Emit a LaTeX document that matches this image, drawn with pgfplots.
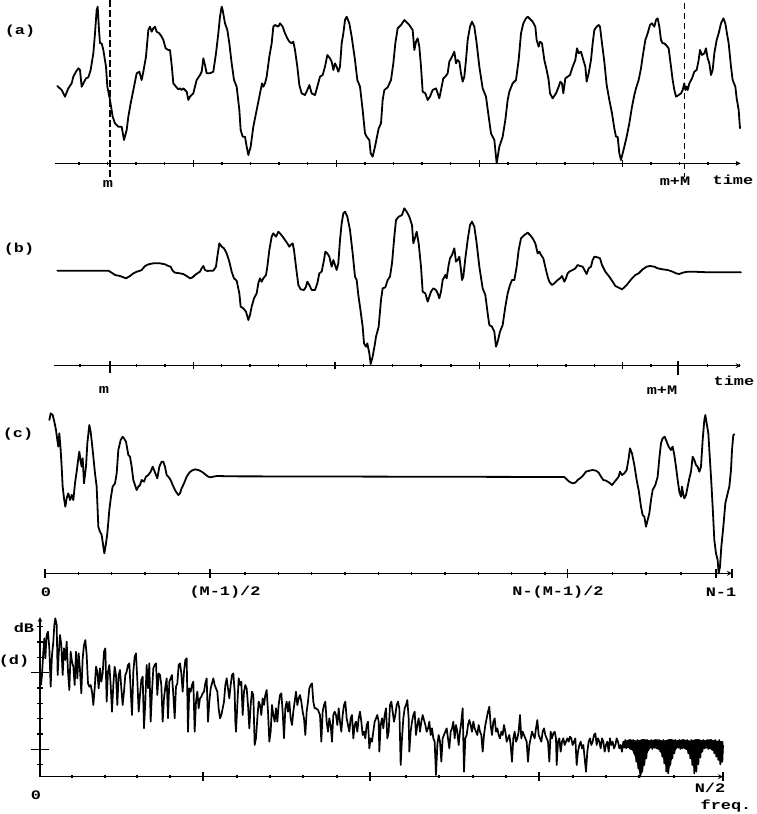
\documentclass[border=0pt]{standalone}
\usepackage{pgfplots}
\pgfplotsset{compat=1.18}
\usepackage{fontspec}
\newfontfamily\lab[FakeStretch=1.3]{Liberation Mono}
\tikzset{lbl/.style={font=\lab\bfseries\fontsize{13}{15}\selectfont, inner sep=0pt}}
\pgfplotsset{
  panel/.style={
    x=0.333333pt, y=0.333333pt,
    anchor=south west,
    enlargelimits=false,
    clip=false,
    axis line style={-, line width=1.2pt},
    xticklabel=\empty,
    yticklabel=\empty,
    tick align=outside,
    major tick length=7pt,
    minor tick length=2.5pt,
    tick style={black, line width=1.2pt},
  },
  xonly/.style={axis x line=bottom, axis y line=none, ytick=\empty},
  wave/.style={black, line width=1.8pt, line join=round, line cap=round, mark=none},
}
\begin{document}
\begin{tikzpicture}
\path[use as bounding box] (0pt,0pt) rectangle (756pt,-814pt);
% ---------------- (a)
\begin{axis}[panel, xonly, at={(55pt,-163.333pt)}, xmin=165, xmax=2222, ymin=-490, ymax=0,
  xtick={580,1009,1438,1867},
  minor xtick={237,323,408,494,666,752,837,923,1095,1181,1266,1352,1524,1610,1695,1781,1953,2039,2124,2210}]
\addplot[wave] coordinates {
(172,-258) (185,-270) (195,-290) (205,-265) (215,-250) (220,-230) (228,-215) (235,-205) (240,-210) (245,-260) (250,-250) (258,-235) (265,-232) (272,-210) (280,-160) (285,-100) (290,-30) (293,-20) (297,-90) (300,-130) (305,-130) (310,-150) (318,-200) (322,-260) (330,-300) (338,-350) (345,-370) (355,-380) (365,-380) (372,-420) (380,-390) (385,-350) (392,-310) (400,-270) (405,-245) (410,-220) (418,-215) (425,-240) (430,-215) (438,-170) (445,-90) (450,-80) (455,-95) (460,-85) (465,-80) (470,-95) (478,-100) (485,-110) (490,-120) (497,-145) (505,-150) (510,-150) (515,-195) (520,-250) (528,-260) (535,-268) (540,-265) (545,-270) (550,-265) (560,-275) (565,-300) (570,-290) (580,-280) (590,-240) (600,-225) (605,-215) (610,-175) (615,-195) (620,-220) (630,-220) (640,-215) (648,-160) (655,-100) (660,-50) (665,-20) (668,-30) (675,-70) (682,-90) (688,-130) (695,-190) (702,-240) (710,-260) (718,-330) (722,-390) (728,-410) (735,-410) (740,-440) (745,-465) (752,-440) (760,-380) (770,-330) (780,-280) (786,-250) (790,-260) (795,-250) (800,-230) (808,-170) (815,-130) (820,-80) (825,-75) (835,-80) (840,-70) (848,-80) (855,-100) (862,-115) (868,-125) (875,-130) (880,-125) (885,-150) (892,-200) (898,-255) (905,-280) (915,-285) (922,-270) (928,-255) (935,-280) (945,-285) (952,-260) (960,-230) (968,-225) (975,-200) (982,-165) (990,-175) (995,-185) (1000,-210) (1005,-190) (1010,-200) (1015,-215) (1020,-200) (1025,-130) (1030,-100) (1035,-60) (1040,-50) (1048,-70) (1055,-110) (1065,-180) (1072,-240) (1080,-260) (1088,-330) (1095,-400) (1100,-410) (1108,-420) (1112,-460) (1118,-470) (1125,-440)
(1136,-385) (1143,-370) (1148,-300) (1153,-270) (1163,-262) (1173,-240) (1180,-190) (1186,-130) (1193,-85) (1203,-75) (1213,-60) (1218,-65) (1228,-75) (1238,-90) (1243,-150) (1248,-125) (1253,-115) (1258,-140) (1263,-200) (1268,-275) (1276,-280) (1283,-300) (1290,-290) (1298,-270) (1308,-265) (1313,-280) (1318,-295) (1323,-270) (1330,-235) (1336,-230) (1343,-220) (1348,-185) (1356,-170) (1363,-155) (1368,-190) (1373,-180) (1378,-185) (1383,-220) (1388,-245) (1393,-230) (1398,-180) (1403,-120) (1410,-80) (1416,-65) (1423,-80) (1430,-130) (1438,-200) (1448,-265) (1458,-290) (1466,-350) (1473,-400) (1483,-420) (1490,-490) (1498,-440) (1508,-410) (1516,-360) (1523,-300) (1528,-275) (1538,-250) (1548,-240) (1556,-180) (1563,-100) (1570,-70) (1578,-55) (1583,-50) (1588,-55) (1593,-60) (1598,-65) (1606,-80) (1610,-120) (1616,-140) (1620,-125) (1626,-130) (1633,-180) (1640,-210) (1646,-240) (1650,-280) (1658,-295) (1668,-280) (1676,-260) (1681,-245) (1686,-250) (1690,-280) (1696,-235) (1703,-230) (1710,-225) (1718,-200) (1726,-180) (1731,-145) (1736,-160) (1743,-155) (1750,-180) (1756,-200) (1760,-245) (1766,-220) (1773,-180) (1778,-130) (1783,-90) (1790,-80) (1796,-75) (1800,-80) (1806,-130) (1813,-185) (1820,-255) (1828,-300) (1836,-340) (1843,-385) (1848,-410) (1853,-410) (1858,-460) (1863,-480) (1868,-460) (1873,-440) (1880,-410) (1888,-370) (1896,-320) (1903,-285) (1908,-265) (1916,-240) (1923,-205) (1928,-170) (1936,-120) (1943,-100) (1950,-75) (1956,-70) (1963,-80) (1968,-60) (1973,-55) (1978,-80) (1983,-120) (1988,-130) (1993,-130) (1998,-135) (2006,-145) (2013,-200) (2018,-240) (2023,-270) (2028,-290) (2036,-285) (2043,-280) (2048,-270) (2053,-250) (2056,-270) (2060,-260) (2063,-270) (2068,-250) (2076,-235) (2083,-215) (2090,-210) (2096,-180) (2100,-150) (2106,-165) (2113,-160) (2118,-145) (2123,-175) (2128,-190) (2133,-225) (2138,-210) (2143,-160) (2150,-120) (2156,-100) (2163,-70) (2170,-55) (2176,-70) (2180,-95) (2186,-130) (2193,-200) (2198,-240) (2206,-260) (2210,-295) (2216,-330) (2220,-385)
};
\addplot[black, line width=2.4pt, dash pattern=on 7pt off 3pt] coordinates {(330,0) (330,-530)};
\addplot[black, line width=1.4pt, dash pattern=on 6pt off 4pt] coordinates {(2053,-10) (2053,-530)};
\node[lbl] at (axis cs:60,-93) {(a)};
\node[lbl] at (axis cs:324,-552) {m};
\node[lbl] at (axis cs:2025,-543) {m+M};
\node[lbl] at (axis cs:2199,-540) {time};
\end{axis}
% ---------------- (b)
\begin{axis}[panel, xonly, at={(54pt,-365.667pt)}, xmin=162, xmax=2222, ymin=-497, ymax=0,
  xtick={580,1005,1438,1868},
  minor xtick={240,410,495,665,750,835,920,1090,1178,1263,1353,1528,1613,1698,1783,1953,2123,2218}]
\addplot[wave] coordinates {
(172,-212) (325,-212) (335,-218) (345,-225) (360,-228) (378,-235) (390,-228) (400,-220) (410,-215) (418,-213) (425,-210) (435,-198) (445,-193) (460,-190) (480,-190) (495,-193) (505,-198) (512,-200) (518,-212) (525,-218) (540,-220) (550,-222) (560,-228) (570,-235) (578,-232) (585,-225) (595,-218) (600,-215) (605,-205) (610,-198) (615,-210) (622,-213) (630,-212) (640,-212) (648,-200) (652,-170) (658,-130) (665,-140) (672,-145) (680,-160) (688,-185) (695,-215) (702,-235) (710,-242) (718,-280) (722,-320) (730,-325) (738,-335) (745,-360) (750,-345) (755,-320) (762,-295) (770,-280) (775,-250) (780,-235) (785,-245) (790,-235) (798,-225) (802,-200) (808,-150) (815,-110) (820,-100) (828,-110) (835,-95) (840,-100) (848,-110) (855,-120) (862,-130) (868,-140) (872,-135) (878,-130) (882,-150) (888,-200) (895,-255) (902,-268) (912,-270) (918,-260) (922,-245) (928,-255) (935,-270) (945,-270) (952,-250) (958,-220) (965,-215) (972,-180) (976,-155) (982,-160) (988,-170) (995,-200) (1000,-180) (1005,-195) (1010,-210) (1015,-190) (1020,-120) (1025,-70) (1030,-40) (1035,-35) (1042,-50) (1050,-90) (1058,-160) (1065,-230) (1070,-240) (1075,-285) (1080,-320) (1088,-380) (1092,-430) (1098,-440) (1102,-430) (1108,-460) (1112,-492) (1118,-470) (1125,-430)
(1128,-410) (1136,-380) (1143,-300) (1148,-265) (1156,-262) (1163,-240) (1170,-230) (1176,-190) (1183,-110) (1188,-60) (1196,-50) (1206,-45) (1213,-25) (1220,-35) (1228,-50) (1236,-75) (1240,-130) (1246,-110) (1250,-95) (1256,-130) (1263,-200) (1268,-275) (1276,-280) (1283,-305) (1288,-290) (1293,-275) (1300,-265) (1308,-270) (1313,-280) (1318,-295) (1323,-275) (1328,-240) (1336,-225) (1340,-235) (1346,-195) (1350,-175) (1356,-165) (1363,-145) (1368,-185) (1373,-180) (1378,-170) (1383,-210) (1386,-240) (1390,-230) (1396,-175) (1403,-120) (1410,-75) (1416,-65) (1423,-80) (1430,-130) (1438,-200) (1448,-265) (1456,-285) (1463,-340) (1468,-375) (1476,-380) (1483,-395) (1488,-440) (1493,-425) (1500,-395) (1508,-375) (1516,-320) (1523,-280) (1530,-255) (1536,-240) (1543,-240) (1550,-200) (1556,-150) (1563,-115) (1573,-105) (1583,-98) (1590,-105) (1598,-115) (1606,-130) (1613,-160) (1618,-155) (1623,-165) (1630,-175) (1638,-210) (1643,-230) (1648,-245) (1656,-255) (1663,-250) (1673,-240) (1680,-235) (1686,-228) (1693,-245) (1698,-235) (1703,-220) (1708,-215) (1718,-210) (1726,-205) (1733,-195) (1740,-198) (1748,-200) (1756,-215) (1760,-222) (1766,-205) (1773,-200) (1778,-180) (1783,-170) (1793,-172) (1800,-175) (1806,-195) (1816,-215) (1828,-230) (1838,-245) (1846,-258) (1856,-263) (1866,-268) (1873,-262) (1880,-255) (1888,-245) (1896,-235) (1906,-225) (1916,-220) (1928,-208) (1940,-200) (1950,-198) (1963,-200) (1973,-205) (1988,-208) (2003,-210) (2018,-215) (2028,-220) (2038,-222) (2048,-218) (2063,-215) (2078,-215) (2128,-217) (2223,-217)
};
\addplot[black, line width=2.2pt] coordinates {(330,-483) (330,-520)};
\addplot[black, line width=2.2pt] coordinates {(2033,-483) (2033,-525)};
\node[lbl] at (axis cs:57,-147) {(b)};
\node[lbl] at (axis cs:312,-570) {m};
\node[lbl] at (axis cs:1986,-570) {m+M};
\node[lbl] at (axis cs:2202,-543) {time};
\end{axis}
% ---------------- (c)
\begin{axis}[panel, xonly, at={(45pt,-573.333pt)}, xmin=135, xmax=2196, ymin=-520, ymax=0,
  major tick length=9pt,
  xtick={135,630,1703,2148,2196},
  minor xtick={235,335,435,535,735,835,935,1035,1135,1235,1335,1435,1535,1635,1838,1938,2043}]
\addplot[wave] coordinates {
(148,-60) (152,-40) (158,-45) (163,-65) (168,-90) (172,-120) (175,-140) (178,-100) (182,-150) (185,-200) (188,-260) (192,-295) (196,-320) (200,-295) (205,-280) (210,-300) (215,-285) (220,-300) (225,-250) (230,-215) (235,-175) (238,-155) (242,-185) (245,-200) (248,-175) (252,-250) (258,-200) (262,-130) (268,-75) (272,-95) (278,-150) (285,-220) (290,-260) (295,-380) (300,-395) (305,-405) (310,-440) (313,-460) (318,-430) (322,-400) (328,-330) (333,-290) (338,-260) (345,-250) (350,-220) (355,-150) (362,-120) (368,-110) (372,-115) (378,-125) (385,-165) (390,-170) (395,-200) (400,-240) (405,-255) (410,-270) (415,-260) (420,-255) (425,-240) (432,-245) (438,-230) (445,-225) (452,-215) (458,-200) (462,-210) (468,-225) (472,-235) (478,-200) (485,-185) (490,-185) (495,-200) (500,-225) (505,-230) (512,-240) (518,-255) (525,-270) (530,-278) (535,-285) (540,-280) (545,-265) (552,-250) (560,-230) (568,-218) (575,-212) (585,-208) (595,-210) (605,-215) (612,-220) (618,-225) (625,-230) (632,-232) (640,-230) (650,-228) (700,-229) (1200,-230) (1693,-231)
(1700,-238) (1708,-245) (1718,-250) (1726,-248) (1733,-240) (1740,-235) (1748,-228) (1758,-215) (1768,-212) (1778,-210) (1788,-212) (1796,-218) (1803,-230) (1810,-240) (1818,-242) (1828,-248) (1836,-255) (1840,-250) (1848,-240) (1856,-230) (1860,-215) (1866,-225) (1873,-220) (1880,-210) (1886,-175) (1890,-145) (1896,-160) (1903,-195) (1910,-240) (1916,-270) (1923,-320) (1928,-345) (1933,-350) (1938,-380) (1943,-360) (1948,-340) (1953,-300) (1958,-270) (1966,-255) (1973,-230) (1978,-175) (1983,-130) (1988,-115) (1994,-110) (2000,-125) (2006,-140) (2013,-150) (2018,-140) (2023,-165) (2028,-200) (2033,-240) (2038,-275) (2043,-290) (2046,-260) (2050,-285) (2053,-295) (2058,-285) (2063,-260) (2068,-235) (2073,-215) (2078,-170) (2083,-180) (2088,-195) (2093,-200) (2098,-215) (2103,-200) (2108,-120) (2113,-60) (2116,-45) (2120,-70) (2125,-100) (2128,-150) (2133,-230) (2138,-320) (2143,-420) (2148,-460) (2153,-480) (2156,-520) (2160,-500) (2164,-440) (2170,-380) (2176,-310) (2183,-280) (2188,-260) (2193,-210) (2196,-150) (2200,-105) (2203,-103)
};
\node[lbl] at (axis cs:54,-102) {(c)};
\node[lbl] at (axis cs:138,-576) {0};
\node[lbl] at (axis cs:675,-576) {(M-1)/2};
\node[lbl] at (axis cs:1674,-576) {N-(M-1)/2};
\node[lbl] at (axis cs:2163,-576) {N-1};
\end{axis}
% ---------------- (d) y axis
\begin{axis}[panel, at={(40pt,-776.667pt)}, xmin=120, xmax=2169, ymin=-515, ymax=-36,
  axis y line=left, axis x line=bottom, x axis line style={draw=none}, xtick=\empty,
  major tick length=17pt, minor tick length=5pt,
  ytick={-433,-203},
  minor ytick={-479,-387,-341,-295,-249,-157,-111,-65}]
\addplot[draw=none, mark=none] coordinates {(120,-515) (2169,-36)};
\end{axis}
% ---------------- (d) spectrum
\begin{axis}[panel, xonly, at={(40pt,-776.667pt)}, xmin=120, xmax=2169, ymin=-515, ymax=-36,
  major tick length=9pt, minor tick length=2.5pt,
  xtick={609,1110,1617,2169},
  minor xtick={216,315,411,510,711,810,909,1011,1218,1317,1419,1518,1719,1818,1917,2022}]
\addplot[black, line width=1.7pt, line join=round, mark=none] coordinates {
(123,-240) (126,-210) (130,-140) (133,-100) (136,-160) (140,-90) (144,-80) (148,-130) (152,-245) (156,-150) (160,-110) (163,-60) (166,-40) (170,-60) (173,-210) (176,-150) (180,-90) (184,-120) (188,-210) (192,-130) (196,-165) (200,-110) (204,-200) (208,-255) (212,-140) (216,-170) (220,-185) (224,-240) (228,-140) (232,-220) (236,-145) (240,-195) (244,-265) (248,-160) (252,-120) (256,-105) (260,-150) (264,-235) (268,-245) (272,-240) (276,-260) (280,-300) (284,-250) (288,-185) (292,-200) (296,-250) (300,-190) (304,-230) (308,-205) (312,-140) (316,-130) (320,-290) (324,-200) (328,-180) (332,-240) (336,-320) (340,-240) (344,-185) (348,-210) (352,-300) (356,-210) (360,-195) (364,-250) (368,-300) (372,-260) (376,-210) (380,-200) (384,-180) (388,-175) (392,-255) (396,-330) (400,-200) (404,-155) (408,-145) (412,-225) (416,-320) (420,-270) (424,-225) (428,-215) (432,-370) (436,-290) (440,-180) (444,-250) (448,-175) (452,-350) (456,-260) (460,-190) (464,-180) (468,-175) (472,-270) (476,-205) (480,-210) (484,-240) (488,-350) (492,-280) (496,-245) (500,-220) (504,-340) (508,-230) (512,-220) (516,-210) (520,-270) (524,-340) (528,-245) (532,-235) (536,-180) (540,-175) (544,-205) (548,-260) (552,-200) (556,-165) (560,-160) (564,-380) (568,-250) (572,-260) (576,-240) (580,-230) (584,-380) (588,-290) (592,-260) (596,-310) (600,-280) (604,-275) (608,-265) (612,-260) (616,-235) (620,-220) (624,-350) (628,-290) (632,-250) (636,-235) (640,-220) (644,-240)
(652,-260) (656,-310) (660,-340) (664,-330) (668,-310) (672,-290) (676,-240) (680,-220) (684,-250) (688,-280) (692,-240) (696,-210) (700,-205) (704,-260) (706,-350) (708,-380) (712,-300) (716,-220) (720,-240) (724,-230) (728,-330) (732,-260) (736,-240) (740,-250) (744,-300) (748,-370) (752,-300) (756,-260) (760,-270) (764,-420) (768,-400) (772,-340) (776,-290) (780,-300) (784,-330) (788,-280) (792,-300) (796,-270) (800,-255) (804,-320) (808,-410) (812,-380) (816,-300) (820,-330) (824,-350) (828,-310) (832,-350) (836,-300) (840,-270) (844,-265) (848,-320) (852,-400) (856,-310) (860,-290) (864,-320) (868,-290) (872,-340) (876,-360) (880,-320) (884,-290) (888,-260) (892,-300) (896,-280) (900,-270) (904,-290) (908,-320) (912,-340) (916,-390) (920,-320) (924,-290) (928,-250) (932,-240) (936,-235) (940,-290) (944,-310) (948,-310) (954,-315) (960,-330) (964,-410) (968,-320) (972,-300) (976,-290) (980,-350) (984,-380) (988,-340) (992,-360) (996,-410) (1000,-330) (1004,-320) (1008,-330) (1012,-360) (1016,-310) (1020,-350) (1024,-380) (1028,-330) (1032,-300) (1036,-290) (1040,-340) (1044,-360) (1048,-380) (1052,-340) (1056,-330) (1060,-400) (1064,-360) (1068,-350) (1072,-380) (1076,-340) (1080,-320) (1084,-350) (1088,-390) (1092,-380) (1096,-400) (1100,-360) (1104,-350) (1108,-430) (1112,-400) (1116,-410) (1120,-380) (1124,-350) (1128,-340)
(1132,-330) (1136,-350) (1138,-440) (1142,-360) (1146,-340) (1150,-370) (1154,-330) (1158,-310) (1162,-400) (1166,-380) (1170,-300) (1174,-290) (1178,-320) (1182,-350) (1186,-330) (1190,-300) (1194,-290) (1198,-310) (1202,-480) (1206,-400) (1210,-340) (1214,-310) (1218,-300) (1222,-285) (1226,-340) (1228,-440) (1232,-380) (1236,-350) (1240,-330) (1244,-320) (1248,-390) (1252,-360) (1256,-340) (1260,-380) (1264,-350) (1268,-330) (1272,-345) (1276,-360) (1280,-380) (1284,-370) (1288,-350) (1292,-390) (1296,-370) (1300,-400) (1304,-410) (1308,-510) (1312,-420) (1316,-390) (1320,-410) (1324,-470) (1328,-400) (1332,-390) (1336,-380) (1340,-370) (1344,-400) (1348,-430) (1352,-380) (1356,-370) (1360,-350) (1364,-400) (1368,-360) (1372,-380) (1376,-420) (1380,-380) (1384,-350) (1388,-310) (1392,-500) (1396,-400) (1400,-390) (1404,-360) (1408,-345) (1412,-360) (1416,-380) (1420,-350) (1424,-370) (1428,-380) (1432,-390) (1436,-360) (1440,-380) (1444,-390) (1448,-440) (1452,-390) (1456,-360) (1460,-340) (1464,-320) (1468,-305) (1472,-360) (1476,-390) (1480,-350) (1484,-340) (1488,-380) (1492,-370) (1496,-390) (1500,-400) (1504,-380) (1508,-390) (1512,-360) (1516,-380) (1520,-410) (1524,-400) (1528,-390) (1532,-420) (1536,-470) (1540,-400) (1544,-380) (1548,-410) (1552,-400) (1556,-380) (1560,-330) (1564,-400) (1568,-380) (1572,-390) (1576,-400) (1580,-410) (1584,-470) (1588,-420) (1592,-400) (1596,-380) (1600,-390) (1604,-400) (1608,-370) (1612,-345) (1616,-390) (1620,-400) (1624,-410) (1628,-380) (1632,-370) (1636,-390) (1640,-400) (1644,-410) (1648,-470) (1652,-380) (1656,-400) (1660,-385) (1664,-380) (1668,-400)
(1670,-480) (1674,-410) (1678,-400) (1682,-440) (1686,-410) (1690,-400) (1694,-420) (1698,-410) (1702,-400) (1706,-410) (1710,-395) (1714,-400) (1718,-420) (1722,-410) (1726,-400) (1730,-480) (1734,-440) (1738,-420) (1742,-410) (1746,-430) (1750,-420) (1754,-460) (1758,-500) (1762,-440) (1766,-410) (1770,-400) (1774,-420) (1778,-410) (1782,-390) (1786,-385) (1790,-420) (1794,-400) (1798,-410) (1802,-430) (1806,-400) (1810,-410) (1814,-440) (1818,-420) (1822,-410) (1826,-440) (1830,-400) (1834,-420) (1838,-410) (1842,-430) (1846,-420) (1850,-400) (1854,-410) (1858,-430) (1862,-420) (1866,-440)
(1870,-410) (1873,-428) (1876,-405) (1879,-430) (1882,-410) (1885,-425) (1888,-405) (1891,-432) (1894,-410) (1897,-430) (1900,-405) (1903,-445) (1906,-410) (1909,-470) (1912,-405) (1915,-490) (1918,-408) (1921,-515) (1924,-410) (1927,-500) (1930,-405) (1933,-480) (1936,-410) (1939,-460) (1942,-405) (1945,-435) (1948,-410) (1951,-428) (1954,-405) (1957,-432) (1960,-410) (1963,-428) (1966,-405) (1969,-430) (1972,-410) (1975,-432) (1978,-405) (1981,-440) (1984,-410) (1987,-455) (1990,-405) (1993,-475) (1996,-410) (1999,-500) (2002,-408) (2005,-505) (2008,-410) (2011,-480) (2014,-405) (2017,-460) (2020,-410) (2023,-445) (2026,-405) (2029,-430) (2032,-410) (2035,-428) (2038,-405) (2041,-432) (2044,-410) (2047,-430) (2050,-405) (2053,-428) (2056,-410) (2059,-432) (2062,-405) (2065,-445) (2068,-410) (2071,-460) (2074,-405) (2077,-480) (2080,-410) (2083,-505) (2086,-408) (2089,-500) (2092,-410) (2095,-478) (2098,-405) (2101,-458) (2104,-410) (2107,-440) (2110,-405) (2113,-430) (2116,-410) (2119,-428) (2122,-405) (2125,-432) (2128,-410) (2131,-430) (2134,-405) (2137,-435) (2140,-410) (2143,-445) (2146,-405) (2149,-455) (2152,-410) (2155,-465) (2158,-405) (2161,-478) (2164,-410) (2167,-470) (2169,-420)
};
\addplot[black, fill=black, line width=0.6pt, mark=none] coordinates {
(1870,-410) (1890,-404) (1910,-408) (1930,-403) (1950,-407) (1970,-404) (1990,-408) (2010,-403) (2030,-407) (2050,-404) (2070,-408) (2090,-403) (2110,-407) (2130,-404) (2150,-408) (2169,-410)
(2169,-440) (2165,-470) (2162,-476) (2158,-462) (2150,-448) (2140,-436) (2125,-428) (2110,-430) (2100,-450) (2092,-472) (2087,-495) (2083,-492) (2077,-470) (2070,-450) (2062,-435) (2045,-426) (2030,-428) (2020,-445) (2012,-470) (2005,-498) (2001,-494) (1995,-472) (1988,-452) (1980,-435) (1965,-426) (1950,-428) (1942,-442) (1935,-465) (1928,-488) (1923,-508) (1919,-503) (1913,-478) (1906,-455) (1898,-436) (1885,-428) (1870,-426)
} -- cycle;
\node[lbl] at (axis cs:72,-69) {dB};
\node[lbl] at (axis cs:42,-168) {(d)};
\node[lbl] at (axis cs:108,-570) {0};
\node[lbl] at (axis cs:2130,-549) {N/2};
\node[lbl] at (axis cs:2178,-603) {freq.};
\end{axis}
\end{tikzpicture}
\end{document}
